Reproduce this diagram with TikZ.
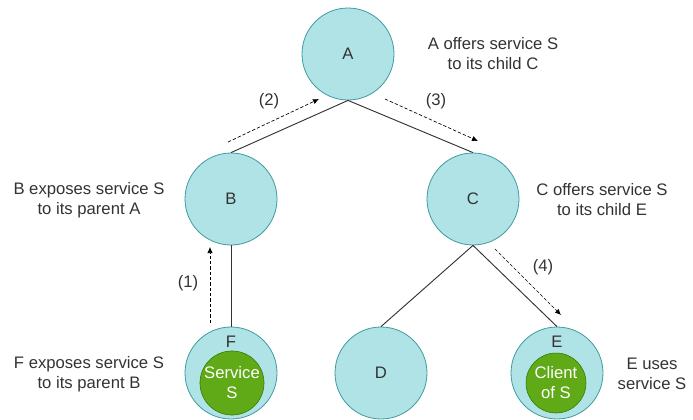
\documentclass[tikz,border=0pt]{standalone}
\usepackage{fontspec}
\setmainfont{Liberation Sans}
\usetikzlibrary{arrows.meta,calc,positioning}

\definecolor{peerfill}{HTML}{B0E3E6}
\definecolor{peerline}{HTML}{3E9AA3}
\definecolor{svcfill}{HTML}{60A917}
\definecolor{svcline}{HTML}{2D7600}
\definecolor{ink}{HTML}{333333}

\tikzset{
  peer/.style={circle, draw=peerline, fill=peerfill, minimum size=69pt,
    inner sep=0pt, line width=0.6pt},
  svc/.style={circle, draw=svcline, fill=svcfill, minimum size=45pt,
    inner sep=0pt, text=white, align=center},
  note/.style={align=center},
  flow/.style={dash pattern=on 2.5pt off 1.5pt, line width=0.5pt,
    -{Latex[length=4.5pt,width=4pt]}},
  tree/.style={ink, line width=0.7pt},
}

\begin{document}
\begin{tikzpicture}[x=0.75pt,y=-0.75pt,
    every node/.style={text=ink, font=\fontsize{12.5}{15}\selectfont}]
  \useasboundingbox (0,0) rectangle (693,419);
  % peers of the tree
  \node[peer](A) at (348,54){A};
  \node[peer](B) at (231,199){B};
  \node[peer](C) at (473,199){C};
  \node[peer](F) at (231,373){};
  \node[peer](D) at (381,373){D};
  \node[peer](E) at (557,373){};
  \node(Fname) at ($(F.north)+(0,15)$){F};
  \node(Ename) at ($(E.north)+(0,15)$){E};
  \node[svc, text=white](Fsvc) at (232,383){Service\\S};
  \node[svc, text=white](Ecli) at (556,383){Client\\of S};
  % links
  \draw[tree](A.south)--(B.north);
  \draw[tree](A.south)--(C.north);
  \draw[tree](B.south)--(F.north);
  \draw[tree](C.south)--(D.north);
  \draw[tree](C.south)--(E.north);
  % flow of the service
  \coordinate(f1) at (210,323);
  \coordinate(t1) at (210,247);
  \coordinate(f2) at (228,142);
  \coordinate(t2) at (319,99);
  \coordinate(f3) at (385,99);
  \coordinate(t3) at (478,141);
  \coordinate(f4) at (495,249);
  \coordinate(t4) at (561,315);
  \draw[flow](f1)--(t1);
  \draw[flow](f2)--(t2);
  \draw[flow](f3)--(t3);
  \draw[flow](f4)--(t4);
  \node(s1) at (188,283){(1)};
  \node(s2) at (269,101){(2)};
  \node(s3) at (436,101){(3)};
  \node(s4) at (543,267){(4)};
  % notes
  \node[note](nA) at (493,54){A offers service S\\to its child C};
  \node[note](nB) at (89,200){B exposes service S\\to its parent A};
  \node[note](nC) at (602,200){C offers service S\\to its child E};
  \node[note](nF) at (89,374){F exposes service S\\to its parent B};
  \node[note](nE) at (652,374){E uses\\service S};
\end{tikzpicture}
\end{document}
